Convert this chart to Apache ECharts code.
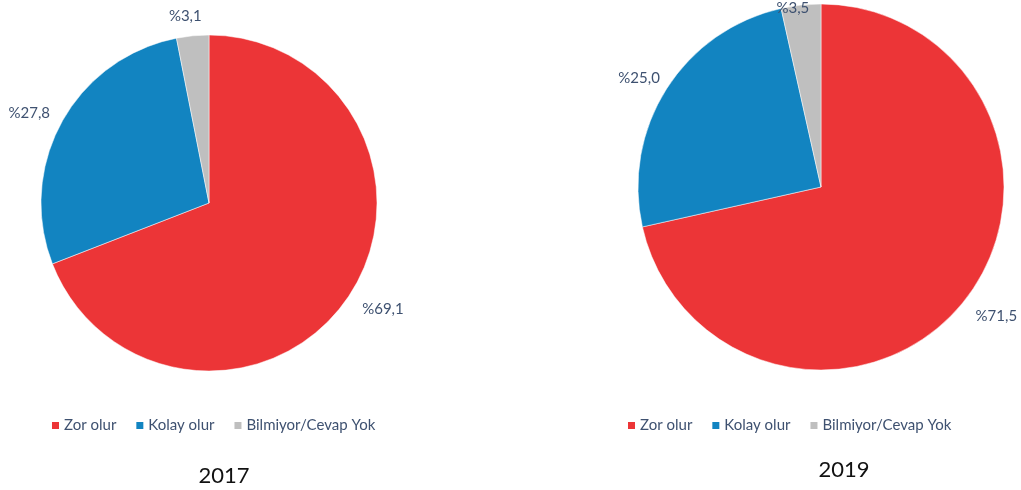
<!DOCTYPE html>
<html>
<head>
<meta charset="utf-8">
<script src="https://cdn.jsdelivr.net/npm/echarts@6/dist/echarts.min.js"></script>
<style>
html,body{margin:0;padding:0;background:#fff;}
#c{width:1021px;height:490px;}
</style>
</head>
<body>
<div id="c"></div>
<script>
const categories = ['Zor olur', 'Kolay olur', 'Bilmiyor/Cevap Yok'];
const values2017 = [69.1, 27.8, 3.1];
const values2019 = [71.5, 25.0, 3.5];
const years = ['2017', '2019'];
const colors = ['#EC3537', '#1284C1', '#BFBFBF'];

const textColor = '#3E5170';
const font = 'Lato';

function fmt(p) {
  return '%' + p.value.toFixed(1).replace('.', ',');
}

function makeData(vals, lineLens, dists) {
  return vals.map((v, i) => ({
    name: categories[i],
    value: v,
    label: { distanceToLabelLine: dists[i] },
    labelLine: { show: false, length: lineLens[i], length2: 0 }
  }));
}

const labelStyle = {
  show: true, position: 'outside', formatter: fmt, overflow: 'none',
  fontFamily: font, fontSize: 15, color: textColor, distanceToLabelLine: 0
};
const legendBase = {
  data: categories, top: 418, itemWidth: 9, itemHeight: 9, itemGap: 18, padding: 0,
  icon: 'rect', textStyle: { fontFamily: font, fontSize: 15, color: textColor, padding: [0, 0, 0, -1] }
};

const chart = echarts.init(document.getElementById('c'));
chart.setOption({
  animation: false,
  color: colors,
  title: [
    { text: years[0], left: 219, top: 460, textAlign: 'center',
      textStyle: { fontFamily: font, fontSize: 22, fontWeight: 'normal', color: '#111' } },
    { text: years[1], left: 839, top: 454, textAlign: 'center',
      textStyle: { fontFamily: font, fontSize: 22, fontWeight: 'normal', color: '#111' } }
  ],
  legend: [
    Object.assign({}, legendBase, { left: 50 }),
    Object.assign({}, legendBase, { left: 626 })
  ],
  series: [
    {
      type: 'pie',
      center: [209, 203],
      radius: 168,
      startAngle: 90,
      clockwise: true,
      itemStyle: { borderColor: '#fff', borderWidth: 0.5 },
      label: labelStyle,
      labelLine: { show: false, length: 20, length2: 0 },
      emphasis: { disabled: true },
      data: makeData(values2017, [20, 18, 20], [-2, -4, -11])
    },
    {
      type: 'pie',
      center: [821, 187],
      radius: 183,
      startAngle: 90,
      clockwise: true,
      itemStyle: { borderColor: '#fff', borderWidth: 0.5 },
      label: labelStyle,
      labelLine: { show: false, length: 20, length2: 0 },
      emphasis: { disabled: true },
      data: makeData(values2019, [24, 20, -3], [-7, 0, -8])
    }
  ]
});
</script>
</body>
</html>
